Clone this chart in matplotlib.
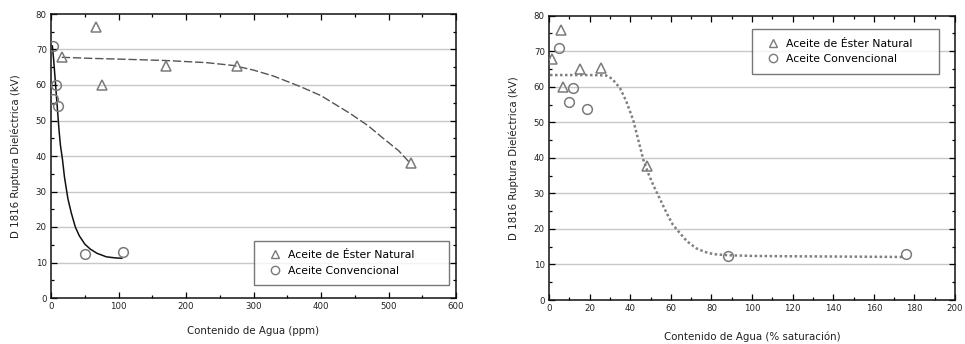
import matplotlib
matplotlib.use("Agg")
import matplotlib.pyplot as plt
from matplotlib.ticker import MultipleLocator
from matplotlib.lines import Line2D

# ---- Left chart (ppm) ----
ester_ppm_x = [16, 66, 75, 171, 276, 533]
ester_ppm_y = [68, 76.4, 60, 65.4, 65.4, 37.9]
conv_ppm_x = [2.5, 8, 3.5, 10.5, 51, 106]
conv_ppm_y = [71, 60, 56, 54, 12.5, 13]
ester_fit_ppm_x = [16, 60, 100, 170, 230, 270, 300, 330, 370, 400, 443, 470, 492, 515, 532]
ester_fit_ppm_y = [67.8, 67.5, 67.3, 66.9, 66.3, 65.5, 64.2, 62.5, 59.5, 57, 52, 48.5, 45, 41.5, 38]
conv_fit_ppm_x = [2, 4, 6, 8, 10, 12, 14, 17, 20, 25, 30, 36, 42, 50, 58, 68, 82, 95, 105]
conv_fit_ppm_y = [71, 67, 62, 57, 52, 47, 43, 39, 34, 28, 24, 20, 17.5, 15.2, 13.8, 12.6, 11.6, 11.3, 11.2]

# ---- Right chart (% saturation) ----
ester_sat_x = [1.3, 5.9, 6.7, 15.3, 25.5, 48.1]
ester_sat_y = [67.7, 76, 59.8, 65, 65.4, 37.7]
conv_sat_x = [5.1, 12, 10, 18.6, 88.3, 176]
conv_sat_y = [70.8, 59.6, 55.8, 53.7, 12.4, 13]
fit_sat_x = [0.5, 10, 20, 28, 31, 35, 38, 41.5, 44, 46.5, 49, 51.4, 55, 58, 61, 64.5, 68, 72.7, 77, 81, 88, 100, 120, 150, 175]
fit_sat_y = [63.3, 63.3, 63.3, 63.2, 62.3, 59.6, 56, 50.6, 45, 39.4, 35.5, 32.3, 28, 24.4, 21.2, 18.8, 16.5, 14.5, 13.5, 12.9, 12.6, 12.4, 12.3, 12.2, 12.1]

legend_labels = ["Aceite de Éster Natural", "Aceite Convencional"]
xlabels = ["Contenido de Agua (ppm)", "Contenido de Agua (% saturación)"]
ylabel = "D 1816 Ruptura Dieléctrica (kV)"

plt.rcParams['font.family'] = ['DejaVu Sans']
fig = plt.figure(figsize=(9.65, 3.44), dpi=100)
L1 = (51, 298, 405, 284)     # left px, bottom px, width, height
L2 = (549, 300, 406, 284.3)
ax1 = fig.add_axes([L1[0]/965, 1-L1[1]/344, L1[2]/965, L1[3]/344])
ax2 = fig.add_axes([L2[0]/965, 1-L2[1]/344, L2[2]/965, L2[3]/344])

mk_col = "#7a7a7a"
grid_col = "#c8c8c8"

def style(ax, xmax, xmaj, xmin, xl, xpad, ypad):
    ax.set_xlim(0, xmax)
    ax.set_ylim(0, 80)
    ax.xaxis.set_major_locator(MultipleLocator(xmaj))
    ax.xaxis.set_minor_locator(MultipleLocator(xmin))
    ax.yaxis.set_major_locator(MultipleLocator(10))
    ax.yaxis.set_minor_locator(MultipleLocator(5))
    ax.tick_params(which='both', direction='in', top=True, right=True, labelsize=6.2,
                   labelcolor="#222222", width=0.9)
    ax.tick_params(which='major', length=4, pad=3)
    ax.tick_params(which='minor', length=2.5)
    ax.set_axisbelow(True)
    for y in range(10, 80, 10):
        ax.axhline(y, color=grid_col, lw=1.0, zorder=0)
    for s in ax.spines.values():
        s.set_linewidth(1.1)
        s.set_color("#111111")
    ax.set_xlabel(xl, fontsize=7.4, labelpad=xpad, color="#222222")
    ax.set_ylabel(ylabel, fontsize=7.4, labelpad=ypad, color="#222222")

style(ax1, 600, 100, 50, xlabels[0], 11, 11)
style(ax2, 200, 20, 10, xlabels[1], 13.5, 11)

ax1.plot(ester_fit_ppm_x, ester_fit_ppm_y, ls=(0, (6, 2)), color="#555555", lw=1.0, zorder=2)
ax1.plot(conv_fit_ppm_x, conv_fit_ppm_y, ls='-', color="#111111", lw=1.1, zorder=2)
ax2.plot(fit_sat_x, fit_sat_y, ls=(0, (1, 1)), color="#808080", lw=1.8, zorder=2)

for ax, ex, ey, cx, cy in [(ax1, ester_ppm_x, ester_ppm_y, conv_ppm_x, conv_ppm_y),
                           (ax2, ester_sat_x, ester_sat_y, conv_sat_x, conv_sat_y)]:
    ax.plot(ex, ey, ls='none', marker='^', ms=7, mfc='none', mec=mk_col, mew=1.1, zorder=3)
    ax.plot(cx, cy, ls='none', marker='o', ms=7, mfc='none', mec=mk_col, mew=1.1, zorder=3)

handles = [Line2D([], [], ls='none', marker='^', ms=6, mfc='none', mec=mk_col, mew=1.0),
           Line2D([], [], ls='none', marker='o', ms=6, mfc='none', mec=mk_col, mew=1.0)]

def add_legend(ax, L, box):
    x0, x1, ytop, ybot = box
    bb = ((x0 - L[0]) / L[2], (L[1] - ybot) / L[3], (x1 - x0) / L[2], (ybot - ytop) / L[3])
    leg = ax.legend(handles, legend_labels, loc='center left', bbox_to_anchor=bb,
                    mode='expand', fontsize=7.8, frameon=True, fancybox=False,
                    borderpad=0.9, borderaxespad=0, handletextpad=0.2,
                    handlelength=2.0, labelspacing=0.5)
    leg.get_frame().set_edgecolor("#555555")
    leg.get_frame().set_linewidth(1.0)
    return leg

add_legend(ax1, L1, (254, 449, 240, 286))
add_legend(ax2, L2, (752, 939, 31, 72))

fig.savefig("out.png", dpi=100)
